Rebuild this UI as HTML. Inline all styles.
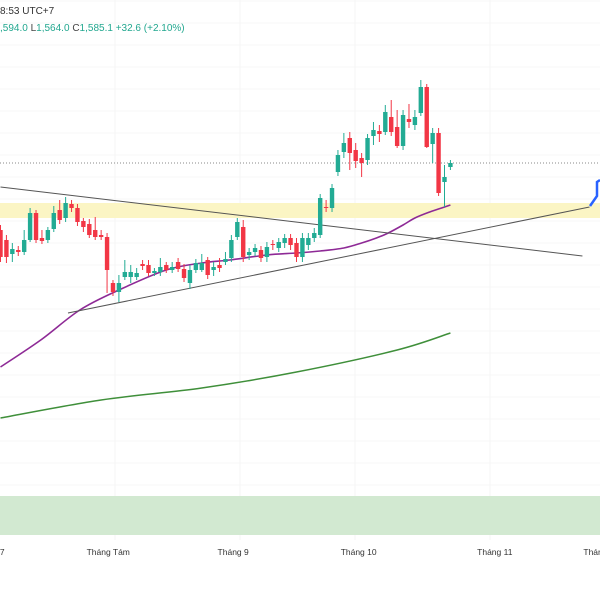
<!DOCTYPE html>
<html><head><meta charset="utf-8"><style>
html,body{margin:0;padding:0;background:#fff;width:600px;height:600px;overflow:hidden}
svg{display:block}
text{font-family:"Liberation Sans",sans-serif}
</style></head><body>
<svg id="c" width="600" height="600" xmlns="http://www.w3.org/2000/svg">
<rect width="600" height="600" fill="#fff"/>
<g id="grid"></g>
<rect x="0" y="203" width="600" height="15" fill="#fbf5c4"/>
<rect x="0" y="496" width="600" height="39" fill="#d2e9d1"/>
<line x1="0" y1="163" x2="600" y2="163" stroke="#8a8a8a" stroke-width="1" stroke-dasharray="1,2"/>
<g id="lines"></g>
<g id="candles"></g>
<text x="0" y="14" font-size="10" fill="#333">8:53 UTC+7</text>
<text x="0" y="31" font-size="10" fill="#22a78f">,594.0 <tspan fill="#444">L</tspan>1,564.0 <tspan fill="#444">C</tspan>1,585.1 +32.6 (+2.10%)</text>
<g id="xaxis"></g>
</svg>
<script>
const opens=[1518,1508,1494,1498,1496,1508,1535,1510,1508,1519,1538,1530,1544,1540,1527,1524,1518,1513,1511,1465,1456,1471,1471,1471,1484,1483,1475,1476,1483,1478,1486,1479,1465,1478,1478,1488,1478,1483,1486,1490,1511,1521,1493,1496,1498,1491,1504,1500,1505,1510,1505,1491,1503,1510,1513,1541,1540,1576,1596,1610,1598,1590,1588,1612,1617,1616,1631,1621,1602,1629,1623,1635,1661,1604,1615,1566,1581];
const closes=[1491,1491,1499,1496,1508,1535,1508,1507,1518,1535,1528,1545,1540,1526,1521,1513,1511,1511,1478,1456,1465,1476,1476,1475,1482,1475,1477,1481,1478,1481,1479,1470,1478,1485,1485,1473,1481,1480,1489,1508,1526,1491,1496,1500,1490,1501,1503,1506,1510,1503,1491,1510,1510,1515,1550,1540,1560,1593,1605,1595,1587,1585,1610,1618,1614,1636,1616,1602,1633,1626,1631,1661,1601,1615,1555,1571,1585];
const highs=[1523,1513,1505,1502,1518,1540,1538,1518,1521,1542,1548,1551,1548,1544,1530,1529,1531,1518,1515,1468,1473,1488,1483,1480,1488,1488,1480,1490,1486,1486,1490,1484,1483,1489,1494,1491,1486,1490,1496,1513,1530,1528,1500,1504,1502,1506,1508,1510,1514,1514,1510,1515,1515,1520,1554,1548,1564,1598,1615,1616,1605,1595,1614,1626,1623,1643,1648,1638,1638,1644,1638,1668,1664,1620,1620,1583,1588];
const lows=[1486,1485,1486,1492,1493,1506,1505,1504,1505,1516,1524,1526,1536,1522,1516,1510,1508,1508,1455,1452,1446,1468,1465,1468,1478,1472,1472,1472,1475,1475,1476,1466,1459,1475,1476,1469,1472,1476,1483,1486,1508,1486,1488,1492,1486,1486,1498,1496,1500,1498,1486,1486,1498,1506,1510,1536,1536,1572,1590,1578,1580,1571,1583,1603,1606,1613,1612,1600,1598,1620,1618,1632,1600,1585,1552,1541,1578];
const ma50Idx=[0,6.8,13.4,20,28,34,38.7,45,50,54,58,61,63.5,65.5,68,70,72.5,75,76];
const ma50Val=[1381,1408,1438,1458,1478,1485,1488,1493,1495,1497,1500,1505,1510,1515,1523,1530,1536,1541,1543];
const ma200Idx=[0,17,34,50,67,76];
const ma200Val=[1330,1348,1360,1376,1398,1415];
const monthLabels=["7","Tháng Tám","Tháng 9","Tháng 10","Tháng 11","Tháng"];
const monthIdx=[0.3,18.2,39.3,60.5,83.5,100.5];
const step=5.92, x0=0.5;
const X=i=>x0+i*step;
const Y=p=>1748-p;
const NS="http://www.w3.org/2000/svg";
function mk(tag,attrs,parent){const e=document.createElementNS(NS,tag);for(const k in attrs)e.setAttribute(k,attrs[k]);parent.appendChild(e);return e;}
const grid=document.getElementById('grid');
for(let y=1;y<540;y+=22){const l=mk('line',{x1:0,x2:600,y1:y,y2:y,stroke:'#f7f7f7'},grid);

}
[115,240,355,490].forEach(x=>{const l=mk('line',{x1:x,x2:x,y1:0,y2:540,stroke:'#f5f5f5'},grid);

});
const lines=document.getElementById('lines');
function smooth(pts){let d='M'+pts[0][0]+','+pts[0][1];
for(let k=0;k<pts.length-1;k++){const p0=pts[Math.max(0,k-1)],p1=pts[k],p2=pts[k+1],p3=pts[Math.min(pts.length-1,k+2)];
const c1=[p1[0]+(p2[0]-p0[0])/6,p1[1]+(p2[1]-p0[1])/6],c2=[p2[0]-(p3[0]-p1[0])/6,p2[1]-(p3[1]-p1[1])/6];
d+=' C'+c1[0]+','+c1[1]+' '+c2[0]+','+c2[1]+' '+p2[0]+','+p2[1];}return d;}
function curve(idx,val,color,w,name){const pts=idx.map((i,k)=>[X(i),Y(val[k])]);
const p=mk('path',{d:smooth(pts),fill:'none',stroke:color,'stroke-width':w},lines);

}
curve(ma200Idx,ma200Val,'#3f8f3a',1.5,'ma200-line');
curve(ma50Idx,ma50Val,'#8e2a96',1.6,'ma50-line');
curve([0,98.3],[1561,1492],'#555',1,'descending-trendline');
curve([11.4,99.5],[1435,1541],'#555',1,'ascending-trendline');
const bl=mk('polyline',{points:'590,206 597,196 597,182 600,180',fill:'none',stroke:'#2962ff','stroke-width':2.5},lines);


const cg=document.getElementById('candles');
for(let i=0;i<opens.length;i++){
 const up=closes[i]>=opens[i];const col=up?'#22ab94':'#f23645';const x=X(i);
 const g=mk('g',{},cg);
 
 
 mk('line',{x1:x,x2:x,y1:Y(highs[i]),y2:Y(lows[i]),stroke:col,'stroke-width':1},g);
 const t=Y(Math.max(opens[i],closes[i])),b=Y(Math.min(opens[i],closes[i]));
 mk('rect',{x:x-2.2,y:t,width:4.4,height:Math.max(1,b-t),fill:col},g);
}
const xa=document.getElementById('xaxis');
monthLabels.forEach((s,k)=>{const t=mk('text',{x:X(monthIdx[k]),y:555,'font-size':8.5,fill:'#333','text-anchor':'middle'},xa);t.textContent=s;

});
</script>
</body></html>
